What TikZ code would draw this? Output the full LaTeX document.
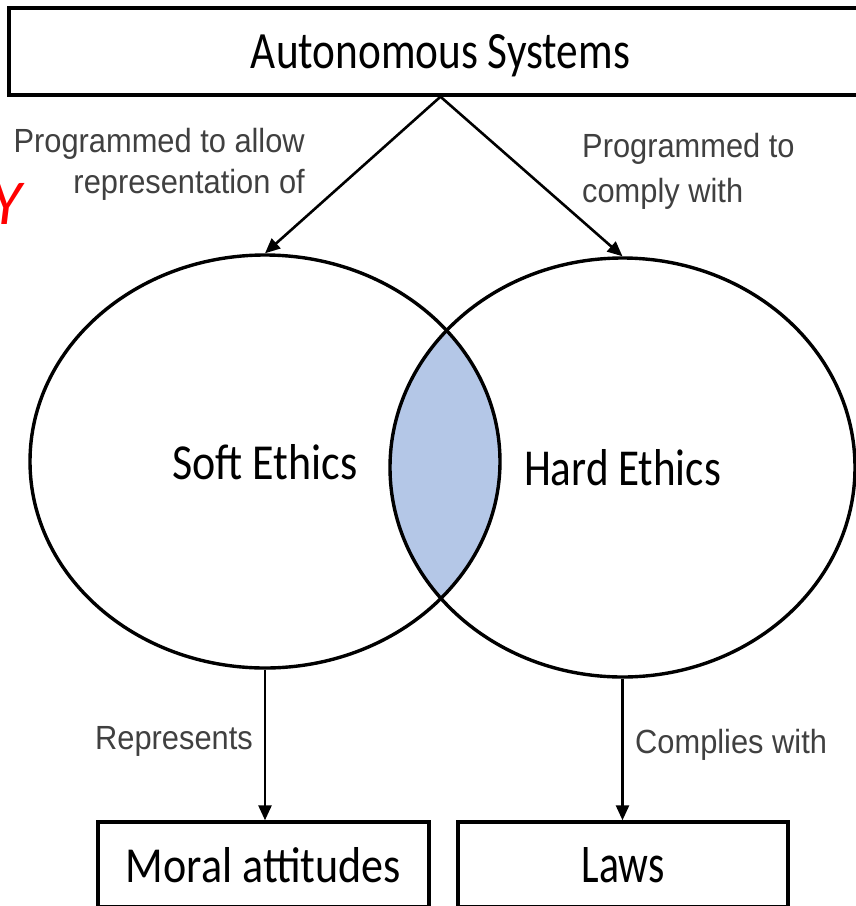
\documentclass[tikz,border=0pt]{standalone}
\usepackage{fontspec}
\usetikzlibrary{shapes.geometric,arrows.meta}
\newfontfamily\boxfont{Carlito}
\newfontfamily\notefont[FakeStretch=0.92]{Liberation Sans}
\definecolor{lens}{HTML}{B4C7E7}
\newcommand{\squeeze}[3]{\resizebox{#1pt}{#2pt}{#3}}
\begin{document}
\begin{tikzpicture}[x=1pt,y=-1pt]
		\tikzstyle{all} = [draw, line width=3.4pt, inner sep=0pt, text depth=0pt, font=\boxfont]
		\tikzstyle{block} = [rectangle, all]
		\tikzstyle{set} = [ellipse, all]
		\tikzstyle{note} = [inner sep=0pt, text=black!75, font=\notefont\fontsize{33.5}{41}\selectfont]
		\tikzstyle{link} = [line width=2.6pt, -{Triangle[length=15pt,width=13pt]}]
		\useasboundingbox (0,0) rectangle (856,906);
		\clip (0,0) rectangle (856,906);
		\begin{scope}
			\clip (265,461.5) ellipse [x radius=235, y radius=206.5];
			\fill[lens] (622.5,467.5) ellipse [x radius=232.5, y radius=209.5];
		\end{scope}
		\node[block, minimum width=863pt, minimum height=87pt] (auto) at (440.5,51.5) {\squeeze{379}{34}{Autonomous Systems}};
		\node[set, minimum width=470pt, minimum height=413pt] (soft) at (265,461.5) {\squeeze{185}{35}{Soft Ethics}};
		\node[set, minimum width=465pt, minimum height=419pt] (hard) at (622.5,467.5) {\squeeze{197}{36}{Hard Ethics}};
		\node[block, minimum width=331pt, minimum height=85pt] (moral) at (263.5,864.5) {\squeeze{275}{35}{Moral attitudes}};
		\node[block, minimum width=330pt, minimum height=85pt] (laws) at (623,864.5) {\squeeze{83}{35}{Laws}};
		\node[note, align=right, anchor=north east] (progsoft) at (305,128) {Programmed to allow\\representation of};
		\node[note, align=left, anchor=north west] (proghard) at (582,133) {Programmed to\\[4pt]comply with};
		\node[note, anchor=base east] (repr) at (253,749) {Represents};
		\node[note, anchor=base west] (compl) at (635,753) {Complies with};
		\node[inner sep=0pt, anchor=base east, text=red, font=\boxfont\itshape\fontsize{64}{64}\selectfont] (mark) at (22,224) {Y};
		\draw[link] (auto.south) -- (soft.north);
		\draw[link] (auto.south) -- (hard.north);
		\draw[link] (soft.south) -- (soft.south |- moral.north);
		\draw[link] (hard.south) -- (hard.south |- laws.north);
\end{tikzpicture}
\end{document}
